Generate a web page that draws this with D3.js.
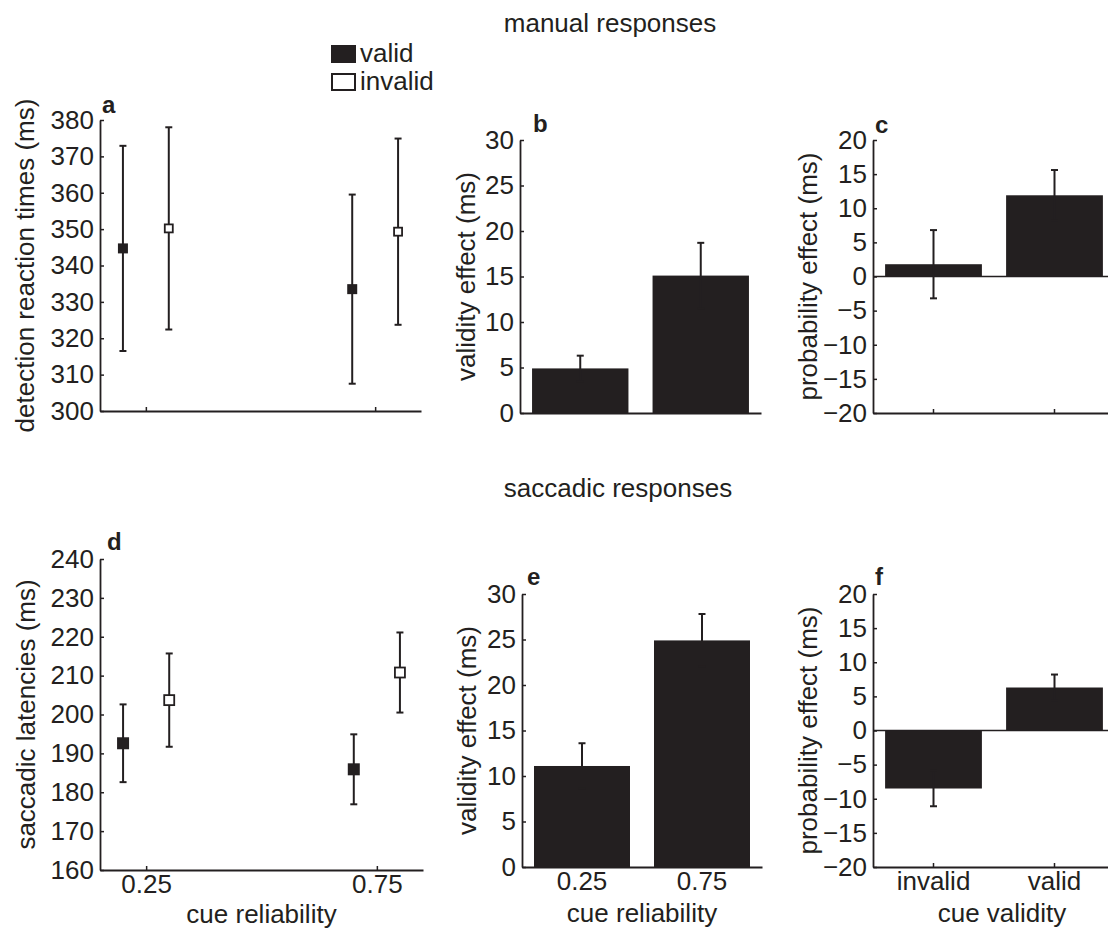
<!DOCTYPE html>
<html>
<head>
<meta charset="utf-8">
<script src="https://cdn.jsdelivr.net/npm/d3@7"></script>
<style>
  body { margin: 0; background: #fff; }
  svg { display: block; font-family: "Liberation Sans", Arial, Helvetica, sans-serif; }
</style>
</head>
<body>
<svg id="fig" width="1108" height="929"></svg>
<script>
// ---- data -------------------------------------------------------------
const reliability = [0.25, 0.75];
const conditions = ["valid", "invalid"];
const conditionShift = [-0.05, 0.05];

// mean detection reaction times (ms) with error
const manualValid = [344.7, 333.5];
const manualValidErr = [28.2, 26.0];
const manualInvalid = [350.2, 349.3];
const manualInvalidErr = [27.8, 25.6];

// mean saccadic latencies (ms) with error
const saccadicValid = [192.6, 185.9];
const saccadicValidErr = [10.0, 9.0];
const saccadicInvalid = [203.7, 210.8];
const saccadicInvalidErr = [12.0, 10.3];

// validity effect per cue reliability
const reliabilityLabels = ["0.25", "0.75"];
const manualValidity = [4.9, 15.1];
const manualValidityErr = [1.4, 3.6];
const saccadicValidity = [11.1, 24.9];
const saccadicValidityErr = [2.5, 2.9];

// probability effect per cue validity
const validityLabels = ["invalid", "valid"];
const manualProbability = [1.8, 11.9];
const manualProbabilityErr = [5.0, 3.7];
const saccadicProbability = [-8.5, 6.3];
const saccadicProbabilityErr = [2.6, 1.9];

// axis ticks
const manualRTTicks = d3.range(300, 381, 10);
const saccadicTicks = d3.range(160, 241, 10);
const validityTicks = d3.range(0, 31, 5);
const probabilityTicks = d3.range(-20, 21, 5);

// ---- drawing ----------------------------------------------------------
const INK = "#231f20";
const FONT = 26;
const svg = d3.select("#fig");

function yAxis(g, y, ticks) {
  g.call(d3.axisLeft(y).tickValues(ticks).tickSizeInner(-4).tickSizeOuter(0).tickPadding(6));
  styleAxis(g);
}
function xAxis(g, x, ticks, fmt, pad) {
  g.call(d3.axisBottom(x).tickValues(ticks).tickFormat(fmt).tickSizeInner(-4).tickSizeOuter(0).tickPadding(pad));
  styleAxis(g);
}
function styleAxis(g) {
  g.select(".domain").attr("stroke", INK).attr("stroke-width", 1.8);
  g.selectAll(".tick line").attr("stroke", INK).attr("stroke-width", 1.5);
  g.selectAll(".tick text").attr("fill", INK).style("font-size", FONT + "px")
    .style("font-family", '"Liberation Sans", Arial, sans-serif');
}
function panelText(box, p) {
  svg.append("text").attr("x", box.x0 + p.letterDx).attr("y", box.y0 - p.letterDy)
    .attr("fill", INK).style("font-size", "24px").style("font-weight", "bold").text(p.letter);
  svg.append("text")
    .attr("transform", `translate(${box.x0 - p.ylabelOff},${(box.y0 + box.y1) / 2}) rotate(-90)`)
    .attr("text-anchor", "middle").attr("fill", INK).style("font-size", FONT + "px").text(p.ylabel);
  if (p.xlabel) {
    svg.append("text").attr("x", (box.x0 + box.x1) / 2 + (p.xlabelDx || 0)).attr("y", p.xlabelY)
      .attr("text-anchor", "middle").attr("fill", INK).style("font-size", FONT + "px").text(p.xlabel);
  }
}
function errorBar(g, x, yTop, yBot, cap) {
  g.append("line").attr("x1", x).attr("x2", x).attr("y1", yTop).attr("y2", yBot);
  g.append("line").attr("x1", x - cap / 2).attr("x2", x + cap / 2).attr("y1", yTop).attr("y2", yTop);
  g.append("line").attr("x1", x - cap / 2).attr("x2", x + cap / 2).attr("y1", yBot).attr("y2", yBot);
}

// points with error bars (panels a, d)
function pointPanel(box, series, ticks, p) {
  const x = d3.scaleLinear().domain([0.15, 0.85]).range([box.x0, box.x1]);
  const y = d3.scaleLinear().domain([ticks[0], ticks[ticks.length - 1]]).range([box.y1, box.y0]);
  yAxis(svg.append("g").attr("transform", `translate(${box.x0},0)`), y, ticks);
  xAxis(svg.append("g").attr("transform", `translate(0,${box.y1})`), x, reliability,
        p.showX ? (d => d3.format(".2f")(d)) : (() => ""), 5);
  series.forEach((s, si) => {
    const g = svg.append("g").attr("stroke", INK).attr("stroke-width", 2);
    s.mean.forEach((m, i) => {
      const cx = x(reliability[i] + conditionShift[si]);
      errorBar(g, cx, y(m + s.err[i]), y(m - s.err[i]), 7);
    });
    s.mean.forEach((m, i) => {
      const cx = x(reliability[i] + conditionShift[si]);
      const filled = conditions[si] === "valid";
      const size = filled ? p.marker + 1 : p.marker - 1;
      svg.append("rect").attr("x", cx - size / 2).attr("y", y(m) - size / 2)
        .attr("width", size).attr("height", size)
        .attr("fill", filled ? INK : "#fff").attr("stroke", INK).attr("stroke-width", filled ? 0 : 1.8);
    });
  });
  panelText(box, p);
}

// bars with error bars (panels b, c, e, f)
function barPanel(box, cats, values, errs, ticks, p) {
  const x = d3.scaleBand().domain(cats).range([box.x0, box.x1]).paddingInner(0.2).paddingOuter(0.1);
  const y = d3.scaleLinear().domain([ticks[0], ticks[ticks.length - 1]]).range([box.y1, box.y0]);
  yAxis(svg.append("g").attr("transform", `translate(${box.x0},0)`), y, ticks);
  xAxis(svg.append("g").attr("transform", `translate(0,${box.y1})`), x, cats,
        p.showX ? (d => d) : (() => ""), 5);
  if (ticks[0] < 0) {
    svg.append("line").attr("x1", box.x0).attr("x2", box.x1).attr("y1", y(0)).attr("y2", y(0))
      .attr("stroke", INK).attr("stroke-width", 1.5);
  }
  svg.append("g").selectAll("rect").data(values).join("rect")
    .attr("x", (d, i) => x(cats[i])).attr("width", x.bandwidth())
    .attr("y", d => y(Math.max(0, d))).attr("height", d => Math.abs(y(d) - y(0)))
    .attr("fill", INK);
  const g = svg.append("g").attr("stroke", INK).attr("stroke-width", 2);
  values.forEach((v, i) => {
    errorBar(g, x(cats[i]) + x.bandwidth() / 2, y(v + errs[i]), y(v - errs[i]), 7);
  });
  panelText(box, p);
}

// section titles
svg.append("text").attr("x", 610).attr("y", 32).attr("text-anchor", "middle")
  .attr("fill", INK).style("font-size", FONT + "px").text("manual responses");
svg.append("text").attr("x", 618).attr("y", 497).attr("text-anchor", "middle")
  .attr("fill", INK).style("font-size", FONT + "px").text("saccadic responses");

// a
pointPanel({ x0: 100, x1: 421, y0: 120, y1: 411 },
  [{ mean: manualValid, err: manualValidErr }, { mean: manualInvalid, err: manualInvalidErr }],
  manualRTTicks,
  { letter: "a", letterDx: 2, letterDy: 7, ylabel: "detection reaction times (ms)", ylabelOff: 66, marker: 9, showX: false });

// legend
const legend = svg.append("g").attr("transform", "translate(331,45)");
conditions.forEach((c, i) => {
  const filled = c === "valid";
  legend.append("rect").attr("x", filled ? 0 : 1).attr("y", i * 28 + (filled ? 0 : 1))
    .attr("width", filled ? 25 : 23).attr("height", filled ? 18 : 16)
    .attr("fill", filled ? INK : "#fff").attr("stroke", INK).attr("stroke-width", filled ? 0 : 2);
  legend.append("text").attr("x", 29).attr("y", i * 28 + 17)
    .attr("fill", INK).style("font-size", FONT + "px").text(c);
});

// b
barPanel({ x0: 520, x1: 761, y0: 140, y1: 413 }, reliabilityLabels, manualValidity, manualValidityErr,
  validityTicks, { letter: "b", letterDx: 13, letterDy: 8, ylabel: "validity effect (ms)", ylabelOff: 45, showX: false });

// c
barPanel({ x0: 873, x1: 1115, y0: 140, y1: 413 }, validityLabels, manualProbability, manualProbabilityErr,
  probabilityTicks, { letter: "c", letterDx: 2, letterDy: 7, ylabel: "probability effect (ms)", ylabelOff: 56, showX: false });

// d
pointPanel({ x0: 100, x1: 423, y0: 559, y1: 870 },
  [{ mean: saccadicValid, err: saccadicValidErr }, { mean: saccadicInvalid, err: saccadicInvalidErr }],
  saccadicTicks,
  { letter: "d", letterDx: 7, letterDy: 9, ylabel: "saccadic latencies (ms)", ylabelOff: 65, marker: 11,
    showX: true, xlabel: "cue reliability", xlabelY: 923 });

// e
barPanel({ x0: 522, x1: 762, y0: 594, y1: 867 }, reliabilityLabels, saccadicValidity, saccadicValidityErr,
  validityTicks, { letter: "e", letterDx: 5, letterDy: 9, ylabel: "validity effect (ms)", ylabelOff: 46,
    showX: true, xlabel: "cue reliability", xlabelY: 922 });

// f
barPanel({ x0: 873, x1: 1115, y0: 594, y1: 867 }, validityLabels, saccadicProbability, saccadicProbabilityErr,
  probabilityTicks, { letter: "f", letterDx: 2, letterDy: 9, ylabel: "probability effect (ms)", ylabelOff: 56,
    showX: true, xlabel: "cue validity", xlabelY: 922, xlabelDx: 8 });
</script>
</body>
</html>
